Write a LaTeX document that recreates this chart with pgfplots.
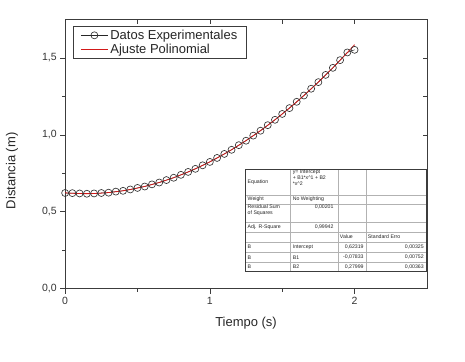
\documentclass[border=0pt]{standalone}
\usepackage{pgfplots}
\pgfplotsset{compat=1.18}
\usepackage{fontspec}
\setmainfont{Liberation Sans}
\definecolor{axc}{RGB}{60,60,60}
\definecolor{fitred}{RGB}{210,25,25}
\pgfplotstableread{
x y
0 0.622
0.05 0.621
0.1 0.619
0.15 0.617
0.2 0.619
0.25 0.622
0.3 0.624
0.35 0.631
0.4 0.636
0.45 0.645
0.5 0.655
0.55 0.664
0.6 0.678
0.65 0.690
0.7 0.706
0.75 0.721
0.8 0.740
0.85 0.759
0.9 0.779
0.95 0.802
1.0 0.824
1.05 0.850
1.1 0.876
1.15 0.903
1.2 0.933
1.25 0.962
1.3 0.995
1.35 1.027
1.4 1.063
1.45 1.098
1.5 1.136
1.55 1.174
1.6 1.215
1.65 1.256
1.7 1.300
1.75 1.343
1.8 1.390
1.85 1.436
1.9 1.486
1.95 1.536
2.0 1.553
}\datos
\pgfplotstableread{
x y
0 0.6232
0.05 0.6200
0.1 0.6182
0.15 0.6177
0.2 0.6187
0.25 0.6211
0.3 0.6249
0.35 0.6301
0.4 0.6367
0.45 0.6446
0.5 0.6540
0.55 0.6648
0.6 0.6770
0.65 0.6906
0.7 0.7056
0.75 0.7219
0.8 0.7397
0.85 0.7589
0.9 0.7795
0.95 0.8015
1.0 0.8249
1.05 0.8496
1.1 0.8758
1.15 0.9034
1.2 0.9324
1.25 0.9628
1.3 0.9945
1.35 1.0277
1.4 1.0623
1.45 1.0983
1.5 1.1357
1.55 1.1745
1.6 1.2146
1.65 1.2562
1.7 1.2992
1.75 1.3436
1.8 1.3894
1.85 1.4365
1.9 1.4851
1.95 1.5351
2.0 1.5865
}\ajuste
\begin{document}
\begin{tikzpicture}
\begin{axis}[name=ax,
  width=361bp, height=268.5bp, scale only axis,
  xmin=0, xmax=2.5, ymin=0, ymax=1.75,
  xtick={0,1,2}, minor xtick={0.5,1.5},
  ytick={0,0.5,1,1.5}, minor ytick={0.25,0.75,1.25},
  xtick pos=bottom, ytick pos=left,
  tick align=outside,
  major tick length=5bp, minor tick length=3bp,
  axis line style={axc, line width=0.8bp},
  every tick/.style={axc, line width=0.7bp},
  /pgf/number format/assume math mode=true,
  yticklabel style={/pgf/number format/.cd, fixed, fixed zerofill, precision=1, use comma},
  ticklabel style={font=\fontsize{10.5}{12}\selectfont, text=black!80},
  xlabel={Tiempo (s)}, ylabel={Distancia (m)},
  label style={font=\fontsize{13}{15}\selectfont, text=black!85},
  xlabel style={at={(axis description cs:0.5,-0.1266)}, anchor=center},
  ylabel style={at={(axis description cs:-0.1468,0.4376)}, anchor=center, rotate=0},
  legend style={at={(axis description cs:0.0222,0.9758)}, anchor=north west,
    draw=axc, line width=0.6bp, font=\fontsize{13}{14}\selectfont,
    inner xsep=7bp, inner ysep=1.5bp, row sep=-1bp, text=black!85},
  legend cell align=left,
  legend image code/.code={\draw[mark repeat=2,mark phase=2,#1] plot coordinates {(0bp,0bp) (13.5bp,0bp) (27bp,0bp)};},
]
\addplot[black!85, line width=0.5bp, mark=o, mark size=3.5bp, mark options={solid, black!80, line width=0.65bp, fill=none}] table {\datos};
\addlegendentry{Datos Experimentales}
\addplot[fitred, line width=0.8bp, no marks, legend image post style={draw=fitred}] table {\ajuste};
\addlegendentry{Ajuste Polinomial}
\end{axis}
\begin{axis}[
  width=361bp, height=268.5bp, scale only axis,
  xmin=0, xmax=2.5, ymin=0, ymax=1.75,
  xtick={0,1,2}, minor xtick={0.5,1.5},
  ytick={0,0.5,1,1.5}, minor ytick={0.25,0.75,1.25},
  xtick pos=top, ytick pos=right,
  tick align=inside,
  major tick length=4bp, minor tick length=4bp,
  axis line style={draw=none},
  every tick/.style={axc, line width=0.7bp},
  xticklabels={}, yticklabels={},
]
\end{axis}
\begin{scope}[shift={(ax.south west)}, x=1bp, y=1bp]
  \fill[white] (180,17) rectangle (360,119.5);
  \draw[gray!60, line width=0.4bp]
    (180,93.7) -- (360,93.7) (180,84.7) -- (360,84.7) (180,66.7) -- (360,66.7)
    (180,56.7) -- (360,56.7) (180,46.7) -- (360,46.7) (180,36.4) -- (360,36.4)
    (180,26.1) -- (360,26.1)
    (225,17) -- (225,119.5) (272,17) -- (272,119.5) (300,17) -- (300,119.5);
  \draw[axc, line width=0.6bp] (180,17) rectangle (360,119.5);
  \begin{scope}[every node/.style={inner sep=0pt, font=\fontsize{5.2}{6}\selectfont, text=black!85}]
    \node[anchor=west] at (182,106.6) {Equation};
    \node[anchor=north west, align=left] at (227,118.5) {y= Intercept\\+ B1*x\textasciicircum 1 + B2\\*x\textasciicircum 2};
    \node[anchor=west] at (182,89.2) {Weight};
    \node[anchor=west] at (227,89.2) {No Weighting};
    \node[anchor=north west, align=left] at (182,83.5) {Residual Sum\\of Squares};
    \node[anchor=north east] at (268,83.5) {0,00201};
    \node[anchor=west] at (182,61.7) {Adj. R-Square};
    \node[anchor=east] at (268,61.7) {0,99942};
    \node[anchor=west] at (274,51.7) {Value};
    \node[anchor=west] at (302,51.7) {Standard Erro};
    \node[anchor=west] at (182,41.5) {B};
    \node[anchor=west] at (227,41.5) {Intercept};
    \node[anchor=east] at (298,41.5) {0,62319};
    \node[anchor=east] at (358,41.5) {0,00325};
    \node[anchor=west] at (182,31.2) {B};
    \node[anchor=west] at (227,31.2) {B1};
    \node[anchor=east] at (298,31.2) {-0,07833};
    \node[anchor=east] at (358,31.2) {0,00752};
    \node[anchor=west] at (182,21.5) {B};
    \node[anchor=west] at (227,21.5) {B2};
    \node[anchor=east] at (298,21.5) {0,27999};
    \node[anchor=east] at (358,21.5) {0,00363};
  \end{scope}
  \path (-65,-72.5) (399,288);
\end{scope}
\end{tikzpicture}
\end{document}
